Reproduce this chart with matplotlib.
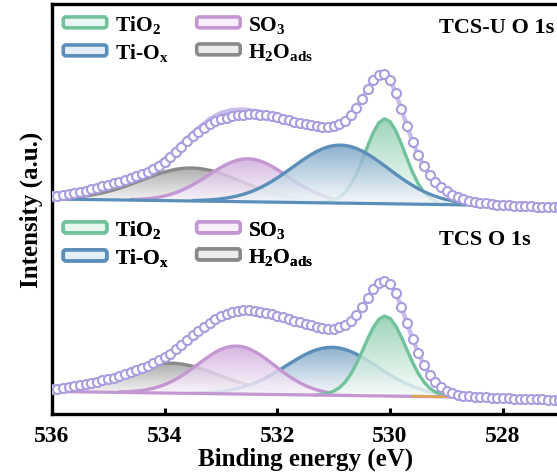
import numpy as np
import matplotlib
matplotlib.use("Agg")
import matplotlib.pyplot as plt
from matplotlib.patches import Polygon, FancyBboxPatch, Patch
from matplotlib.legend_handler import HandlerBase
from matplotlib.colors import to_rgb

# ---------------- data ----------------
binding_energy = np.round(np.arange(536.0, 526.45, -0.1), 1)   # eV, measured grid

tcsu_measured = [216, 216.5, 217, 218, 219, 220, 221.5, 223, 224.5, 226,
                 227.5, 229, 230.5, 232.5, 234.5, 236.5, 238.5, 240.5, 243, 246.5,
                 250.5, 255, 260, 265.5, 271, 276, 280.5, 284.5, 288, 291,
                 293, 294.5, 296, 297, 297.5, 298, 298, 297.5, 297, 296,
                 295, 293.5, 292, 290.5, 289, 288, 287, 286, 285.5, 285,
                 286, 288, 291.5, 297, 304, 313, 323, 332, 337, 338,
                 332, 319, 303, 286, 270, 257, 246, 237, 230, 225,
                 221, 217.5, 215, 213, 211.5, 210.5, 209.5, 208.7, 208, 207.5,
                 207, 206.7, 206.4, 206.1, 205.9, 205.7, 205.5, 205.4, 205.2, 205.1,
                 205, 205, 204.9, 204.8, 204.8, 204.7]

tcs_measured = [23, 23.5, 24, 25, 26, 27, 28, 29, 30.5, 32,
                33, 34.5, 36, 38, 40, 42, 44, 46.5, 49, 52,
                55, 58, 63, 67, 72, 77, 81, 85.5, 89.5, 93,
                96, 98.5, 100.5, 101.5, 102, 102, 101.5, 100.5, 99.5, 98,
                96.5, 95, 93, 91.5, 90, 88.5, 87, 85.5, 84, 83,
                83.5, 85, 87, 91, 97, 105, 114, 123, 129, 131,
                128, 119, 105, 89, 73, 59, 47, 37, 30, 25,
                21.5, 19, 17.5, 16.5, 16, 15.5, 15, 14.7, 14.4, 14,
                13.8, 13.6, 13.4, 13.2, 13, 12.9, 12.8, 12.7, 12.5, 12.4,
                12.3, 12.2, 12.1, 12, 12, 11.9]

# fitted envelope of TCS-U where it departs from the points (shoulder)
tcsu_fit_energy = [534.2, 534.0, 533.8, 533.6, 533.4, 533.2, 533.0, 532.8, 532.6, 532.4, 532.2, 532.0, 531.8]
tcsu_fit_values = [245, 253, 263, 274, 284, 293, 299, 302, 302.5, 301, 299, 296, 292.5]

component_names = ["TiO$_2$", "Ti-O$_\\mathrm{x}$", "SO$_3$", "H$_2$O$_\\mathrm{ads}$"]
component_colors = ["#72c29c", "#5b8fb9", "#c497d3", "#8a8a8a"]

# peak parameters (TiO2, Ti-Ox, SO3, H2Oads)
tcsu_centers = [530.09, 530.88, 532.52, 533.52]
tcsu_fwhm = [0.82, 2.0, 1.65, 2.1]
tcsu_heights = [85, 58, 43, 33]
tcsu_baseline_energy = [536.0, 528.5]
tcsu_baseline_values = [213, 207]
tcsu_order = [3, 2, 0, 1]
tcsu_baseline_color = 1      # index into component_colors

tcs_centers = [530.09, 531.03, 532.73, 533.9]
tcs_fwhm = [0.88, 1.9, 1.6, 2.1]
tcs_heights = [80, 48, 48, 30]
tcs_baseline_energy = [536.0, 528.8]
tcs_baseline_values = [20.5, 15]
tcs_order = [3, 1, 2, 0]
tcs_baseline_color = 2

tick_values = [536, 534, 532, 530, 528]

# ---------------- style ----------------
plt.rcParams["font.family"] = ["Liberation Serif", "DejaVu Serif"]
plt.rcParams["font.weight"] = "bold"
plt.rcParams["mathtext.fontset"] = "custom"
plt.rcParams["mathtext.rm"] = "Liberation Serif:bold"
plt.rcParams["mathtext.bf"] = "Liberation Serif:bold"
plt.rcParams["mathtext.it"] = "Liberation Serif:bold"

W, H = 557, 477
fig = plt.figure(figsize=(W / 100, H / 100), dpi=100)
ax_left, ax_right, ax_top, ax_bottom = 51.7, 559.3, 5, 415
ax = fig.add_axes([ax_left / W, (H - ax_bottom) / H, (ax_right - ax_left) / W, (ax_bottom - ax_top) / H])

meas_color = "#ab9ce0"
env_color = "#c9bdec"


def draw_component(x, base, g, color, z):
    top = base + g
    verts = np.column_stack([np.r_[x, x[::-1]], np.r_[top, base[::-1]]])
    poly = Polygon(verts, closed=True, facecolor="none", edgecolor="none")
    ax.add_patch(poly)
    ymin, ymax = base.min(), top.max()
    n = 200
    t = np.linspace(0, 1, n)[:, None]
    rgb = np.array(to_rgb(color))
    frac = 0.05 + 0.8 * t ** 1.1
    img = np.ones((n, 1, 4))
    img[..., :3] = (1 - frac[..., None]) * 1.0 + frac[..., None] * rgb
    img[..., 3] = 0.82
    im = ax.imshow(img, extent=[x.min(), x.max(), ymin, ymax], origin="lower",
                   aspect="auto", zorder=z, interpolation="bilinear")
    im.set_clip_path(poly)
    vis = g > 0.4
    ax.plot(x[vis], top[vis], color=color, lw=2.4, zorder=z + 0.1, solid_capstyle="round")


def draw_panel(measured, centers, fwhm, heights, b_e, b_v, order, bcol, zbase):
    e = binding_energy
    mask = e >= b_e[1] - 1e-9
    x = e[mask]
    base = np.interp(x[::-1], b_e[::-1], b_v[::-1])[::-1]
    for k, i in enumerate(order):
        g = heights[i] * np.exp(-4 * np.log(2) * (x - centers[i]) ** 2 / fwhm[i] ** 2)
        draw_component(x, base, g, component_colors[i], zbase + k * 0.5)
    ax.plot(x, base, color=component_colors[bcol], lw=2.3, zorder=zbase + 2.5)
    ax.plot(e, measured, color=env_color, lw=3.2, zorder=zbase + 3)
    ax.plot(e, measured, ls="none", marker="o", ms=6.5, mfc="white",
            mec=meas_color, mew=1.5, zorder=zbase + 3.5)


draw_panel(tcs_measured, tcs_centers, tcs_fwhm, tcs_heights,
           tcs_baseline_energy, tcs_baseline_values, tcs_order, tcs_baseline_color, 2)
ax.plot([529.6, 528.8], [15.8, 15.0], color="#e3a640", lw=1.6, zorder=4.6)
draw_panel(tcsu_measured, tcsu_centers, tcsu_fwhm, tcsu_heights,
           tcsu_baseline_energy, tcsu_baseline_values, tcsu_order, tcsu_baseline_color, 2)
ax.plot(tcsu_fit_energy, tcsu_fit_values, color=env_color, lw=3.2, zorder=4.9)

ax.set_xlim(536, 527)
ax.set_ylim(-2, 408)
ax.set_xticks(tick_values)
ax.set_xticklabels([str(v) for v in tick_values])
ax.set_yticks([])
ax.tick_params(axis="x", direction="in", length=4.5, width=2.2, pad=8, labelsize=17)
for s in ax.spines.values():
    s.set_linewidth(2.4)
ax.set_xlabel("Binding energy (eV)", fontsize=18, fontweight="bold", labelpad=0)
ax.set_ylabel("Intensity (a.u.)", fontsize=18, fontweight="bold", labelpad=6)


class GradHandler(HandlerBase):
    def create_artists(self, legend, orig_handle, xdescent, ydescent, width, height, fontsize, trans):
        ec = orig_handle.get_edgecolor()
        rgb = np.array(to_rgb(ec))
        light = np.clip(0.82 * np.ones(3) + 0.2 * rgb, 0, 1)
        p = FancyBboxPatch((-xdescent + 1, -ydescent + 0.5), width - 2, height - 1,
                           boxstyle="round,pad=0,rounding_size=2",
                           facecolor=light, edgecolor=ec, lw=2.6, transform=trans)
        return [p]


handles = [Patch(edgecolor=c, facecolor="white") for c in component_colors]
leg_order = [0, 1, 2, 3]


def make_legend(y_frac):
    lg = ax.legend([handles[i] for i in leg_order], [component_names[i] for i in leg_order],
                   handler_map={Patch: GradHandler()}, ncol=2, loc="upper left",
                   bbox_to_anchor=(0.02, y_frac), frameon=False, fontsize=15.5,
                   handlelength=2.15, handleheight=0.5, handletextpad=0.3,
                   columnspacing=1.25, labelspacing=0.28, borderpad=0, borderaxespad=0)
    return lg


leg1 = make_legend(0.978)
ax.add_artist(leg1)
leg2 = make_legend(0.478)
ax.add_artist(leg2)

ax.text(0.7624, 0.945, "TCS-U O 1s", transform=ax.transAxes, fontsize=16,
        fontweight="bold", ha="left", va="center")
ax.text(0.7624, 0.4268, "TCS O 1s", transform=ax.transAxes, fontsize=16,
        fontweight="bold", ha="left", va="center")

fig.savefig("out.png", dpi=100)
